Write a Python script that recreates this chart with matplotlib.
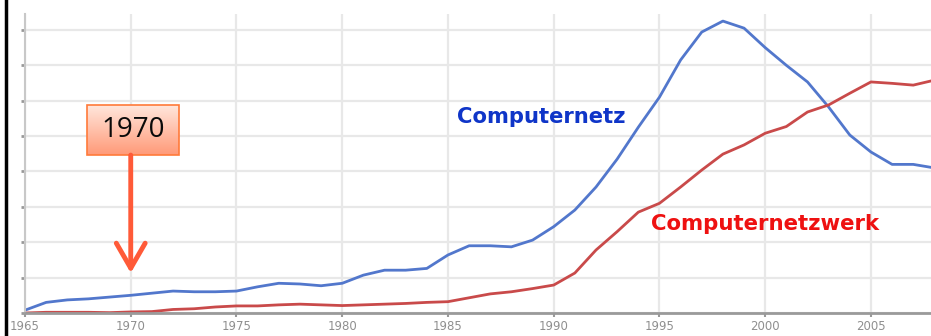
import numpy as np
import matplotlib
matplotlib.use("Agg")
import matplotlib.pyplot as plt
from matplotlib.lines import Line2D
from matplotlib.patches import Rectangle

years = list(range(1965, 2009))
computernetz = [0.08, 0.30, 0.37, 0.40, 0.45, 0.50, 0.56, 0.62, 0.60, 0.60,
                0.62, 0.74, 0.84, 0.82, 0.77, 0.84, 1.07, 1.21, 1.21, 1.26,
                1.64, 1.90, 1.90, 1.87, 2.06, 2.44, 2.91, 3.56, 4.35, 5.25,
                6.10, 7.15, 7.94, 8.25, 8.05, 7.50, 7.00, 6.53, 5.82, 5.03,
                4.55, 4.20, 4.20, 4.10]
computernetzwerk = [0.00, 0.02, 0.02, 0.02, 0.01, 0.03, 0.04, 0.10, 0.12, 0.17,
                    0.20, 0.20, 0.23, 0.25, 0.23, 0.21, 0.23, 0.25, 0.27, 0.30,
                    0.32, 0.43, 0.54, 0.60, 0.69, 0.79, 1.13, 1.78, 2.30, 2.85,
                    3.10, 3.56, 4.04, 4.49, 4.75, 5.08, 5.27, 5.68, 5.88, 6.21,
                    6.53, 6.49, 6.44, 6.58]
xticks = [1965, 1970, 1975, 1980, 1985, 1990, 1995, 2000, 2005]
marked_year = 1970

W, H = 931, 336
fig = plt.figure(figsize=(W / 100, H / 100), dpi=100)
ax = fig.add_axes([25 / W, 23 / H, 906 / W, 299 / H])

ax.plot(years, computernetz, color="#5277cc", lw=2.0, solid_joinstyle="round")
ax.plot(years, computernetzwerk, color="#c94a4a", lw=2.0, solid_joinstyle="round")

ax.set_xticks(xticks)
ax.set_xticklabels([str(x) for x in xticks])
ax.set_yticks(np.arange(0, 9, 1))
ax.set_yticklabels([])
ax.grid(True, color="#e8e8e8", lw=1.6)
ax.set_axisbelow(True)
for s in ("top", "right"):
    ax.spines[s].set_visible(False)
ax.spines["bottom"].set_color("#9a9a9a")
ax.spines["bottom"].set_linewidth(2)
ax.spines["left"].set_color("#c8c8c8")
ax.spines["left"].set_linewidth(1.5)
ax.tick_params(axis="x", length=3, width=1.5, color="#999999",
               labelsize=8.5, labelcolor="#8f8f8f", pad=2)
ax.tick_params(axis="y", length=3, width=2, color="#999999")

ax.text(1985.43, 5.54, "Computernetz", color="#0f35c8", fontsize=15.2,
        fontweight="bold", va="center", ha="left")
ax.text(1994.6, 2.51, "Computernetzwerk", color="#ee1111", fontsize=15.3,
        fontweight="bold", va="center", ha="left")

# year marker: gradient box with arrow pointing down at the axis
x0, x1 = 1965 + (87 - 25) / 21.15, 1965 + (179 - 25) / 21.15
y0, y1 = (313 - 155) / 35.4, (313 - 105) / 35.4
grad = np.linspace(0, 1, 64).reshape(-1, 1)
cmap = matplotlib.colors.LinearSegmentedColormap.from_list(
    "box", ["#ff9a78", "#ffe6dc"])
ax.imshow(grad, extent=[x0, x1, y0, y1], origin="lower", cmap=cmap,
          aspect="auto", zorder=4)
ax.add_patch(Rectangle((x0, y0), x1 - x0, y1 - y0, fill=False,
                       edgecolor="#ff7a3a", lw=1.2, zorder=5))
ax.text((x0 + x1) / 2, (y0 + y1) / 2, str(marked_year), fontsize=20,
        family="Open Sans", color="#0a0a0a", ha="center", va="center", zorder=6)
ax.annotate("", xy=(marked_year, 1.13), xytext=(marked_year, y0),
            arrowprops=dict(arrowstyle="->,head_length=0.9,head_width=0.52",
                            color="#ff5a38", lw=3.5, mutation_scale=20,
                            shrinkA=0, shrinkB=0, capstyle="round",
                            joinstyle="round"),
            zorder=6)
ax.set_xlim(1965, 2007.84)
ax.set_ylim(0, 8.45)

fig.add_artist(Line2D([5.5 / W, 5.5 / W], [0, 1], color="black", lw=2.5,
                      transform=fig.transFigure))

fig.savefig("out.png", dpi=100)
